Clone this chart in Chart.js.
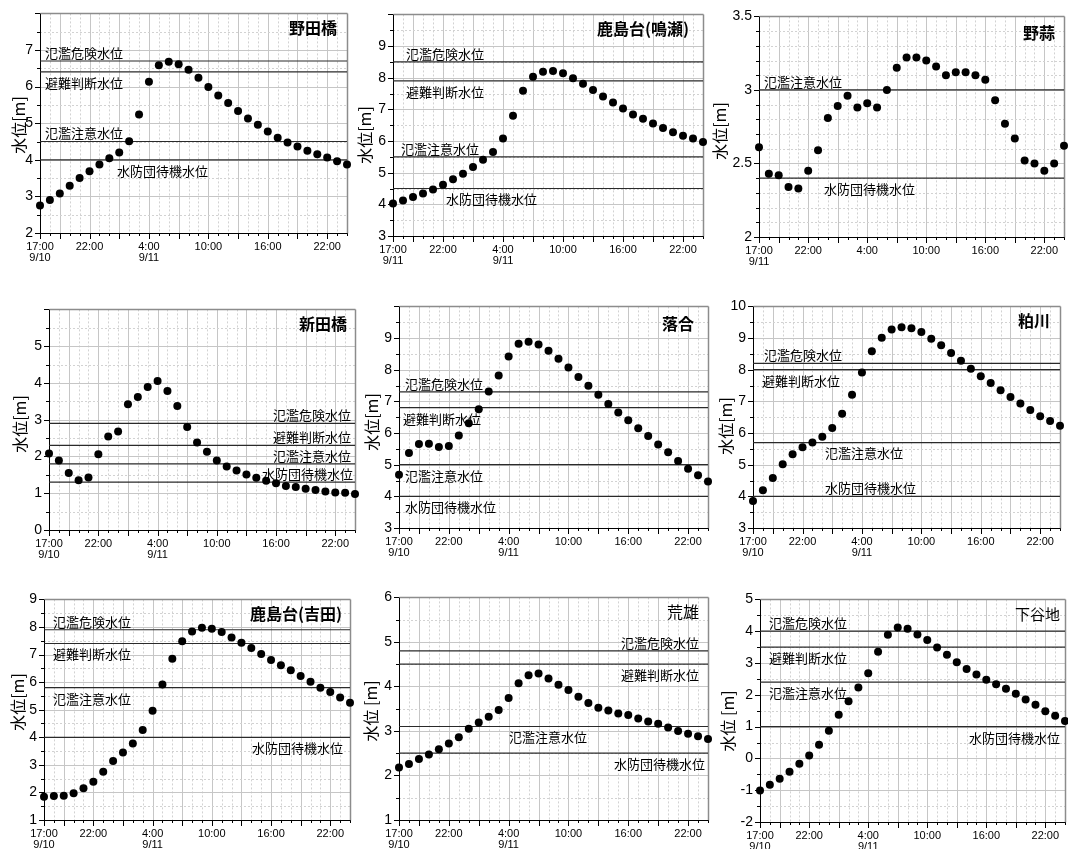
<!DOCTYPE html>
<html lang="ja">
<head>
<meta charset="utf-8">
<title>水位</title>
<script src="https://cdn.jsdelivr.net/npm/chart.js@4.4.1/dist/chart.umd.min.js"></script>
<style>
html,body{margin:0;padding:0;background:#fff;}
#wrap{position:relative;width:1068px;height:849px;overflow:hidden;background:#fff;}
#wrap canvas{position:absolute;}
</style>
</head>
<body>
<div id="wrap"></div>
<script>
// Hourly readings, 17:00 on 9/10 through 0:00 on 9/12
const times = ['17:00','18:00','19:00','20:00','21:00','22:00','23:00','0:00','1:00','2:00','3:00',
  '4:00','5:00','6:00','7:00','8:00','9:00','10:00','11:00','12:00','13:00','14:00','15:00',
  '16:00','17:00','18:00','19:00','20:00','21:00','22:00','23:00','0:00'];
const labelledSlots = [0, 5, 11, 17, 23, 29];

const levelNames = ['氾濫危険水位', '避難判断水位', '氾濫注意水位', '水防団待機水位'];

const nodaLevels = [2.75,2.90,3.08,3.29,3.50,3.69,3.87,4.04,4.20,4.51,5.24,6.13,6.58,6.68,6.61,6.46,
  6.24,5.99,5.76,5.55,5.33,5.13,4.96,4.77,4.60,4.47,4.36,4.25,4.15,4.06,3.96,3.87];
const nodaLimits = [6.7, 6.4, 4.5, 4.0];

const naruseLevels = [4.03,4.12,4.23,4.34,4.47,4.62,4.79,4.97,5.18,5.41,5.65,6.08,6.80,7.59,8.03,8.19,
  8.21,8.14,7.98,7.81,7.61,7.41,7.22,7.03,6.84,6.70,6.55,6.41,6.28,6.17,6.08,5.97];
const naruseLimits = [8.5, 7.9, 5.5, 4.5];

const nobiruLevels = [2.61,2.43,2.42,2.34,2.33,2.45,2.59,2.81,2.89,2.96,2.88,2.91,2.88,3.00,3.15,3.22,
  3.22,3.20,3.16,3.10,3.12,3.12,3.10,3.07,2.93,2.77,2.67,2.52,2.50,2.45,2.50,2.62];
const nobiruLimits = [3.0, 2.4];

const shindenLevels = [2.08,1.89,1.55,1.35,1.43,2.06,2.54,2.68,3.42,3.62,3.89,4.05,3.78,3.37,2.80,2.38,
  2.13,1.89,1.73,1.62,1.51,1.42,1.34,1.27,1.20,1.17,1.12,1.09,1.05,1.02,1.01,0.98];
const shindenLimits = [2.9, 2.3, 1.8, 1.3];

const ochiaiLevels = [4.68,5.37,5.65,5.66,5.56,5.59,5.92,6.31,6.75,7.31,7.82,8.42,8.82,8.88,8.80,8.60,
  8.35,8.07,7.77,7.49,7.21,6.92,6.65,6.40,6.15,5.91,5.64,5.39,5.12,4.87,4.67,4.47];
const ochiaiLimits = [7.3, 6.8, 5.0, 4.0];

const kasukawaLevels = [3.85,4.19,4.58,5.01,5.33,5.55,5.70,5.88,6.16,6.61,7.21,7.91,8.58,9.01,9.27,9.34,
  9.31,9.19,8.98,8.77,8.53,8.28,8.03,7.79,7.58,7.35,7.14,6.93,6.73,6.53,6.38,6.23];
const kasukawaLimits = [8.2, 8.0, 5.7, 4.0];

const yoshidaLevels = [1.84,1.87,1.88,1.97,2.15,2.39,2.75,3.14,3.45,3.77,4.26,4.96,5.91,6.85,7.48,7.84,
  7.97,7.94,7.82,7.62,7.43,7.24,7.02,6.80,6.61,6.43,6.22,6.01,5.80,5.64,5.44,5.25];
const yoshidaLimits = [7.9, 7.4, 5.8, 4.0];

const araoLevels = [2.18,2.26,2.37,2.47,2.59,2.72,2.86,3.05,3.19,3.32,3.47,3.74,4.07,4.25,4.29,4.18,
  4.04,3.92,3.77,3.63,3.52,3.46,3.39,3.36,3.28,3.21,3.16,3.08,3.00,2.94,2.88,2.82];
const araoLimits = [4.8, 4.5, 3.1, 2.5];

const shimoyachiLevels = [-1.01,-0.83,-0.64,-0.42,-0.17,0.09,0.43,0.87,1.37,1.80,2.23,2.68,3.35,3.89,4.12,4.08,
  3.90,3.72,3.49,3.26,3.02,2.81,2.64,2.47,2.33,2.19,2.03,1.85,1.69,1.48,1.34,1.18];
const shimoyachiLimits = [4.0, 3.5, 2.4, 1.0];

// Panel layout: plot box [left, top, right, bottom] on the page, axis ranges and label placement
const stations = [
  { name: '野田橋', levels: nodaLevels, limits: nodaLimits, names: levelNames, dates: ['9/10','9/11'],
    box: [40,12,347,233], min: 2, max: 8, step: 1, minor: 0.5, hideTop: true,
    marks: [['above','left',5],['below','left',5],['above','left',5],['below','left',77]],
    titleRight: 10, titleDy: 15, bold: true, titleSize: 16, yText: '水位[m]', yTitle: [19,125] },
  { name: '鹿島台(鳴瀬)', levels: naruseLevels, limits: naruseLimits, names: levelNames, dates: ['9/11','9/11'],
    box: [393,13,703,236], min: 3, max: 10, step: 1, minor: 0.5, hideTop: true,
    marks: [['above','left',13],['below','left',13],['above','left',8],['below','left',53]],
    titleRight: 14, titleDy: 15, bold: true, titleSize: 16, yText: '水位[m]', yTitle: [365,135] },
  { name: '野蒜', levels: nobiruLevels, limits: nobiruLimits, names: levelNames.slice(2), dates: ['9/11',''],
    box: [759,15,1064,237], min: 2, max: 3.5, step: 0.5, minor: 0.1, hideTop: false,
    marks: [['above','left',5],['below','left',65]],
    titleRight: 9, titleDy: 17, bold: true, titleSize: 16, yText: '水位[m]', yTitle: [720,131] },
  { name: '新田橋', levels: shindenLevels, limits: shindenLimits, names: levelNames, dates: ['9/10','9/11'],
    box: [49,308,355,530], min: 0, max: 6, step: 1, minor: 0.5, hideTop: true,
    marks: [['above','right',4],['above','right',4],['above','right',4],['above','right',2]],
    titleRight: 8, titleDy: 15, bold: true, titleSize: 16, yText: '水位[m]', yTitle: [20,424] },
  { name: '落合', levels: ochiaiLevels, limits: ochiaiLimits, names: levelNames, dates: ['9/10','9/11'],
    box: [399,305,708,528], min: 3, max: 10, step: 1, minor: 0.5, hideTop: true,
    marks: [['above','left',6],['below','left',4],['below','left',6],['below','left',6]],
    titleRight: 14, titleDy: 18, bold: true, titleSize: 16, yText: '水位[m]', yTitle: [372,422] },
  { name: '粕川', levels: kasukawaLevels, limits: kasukawaLimits, names: levelNames, dates: ['9/10','9/11'],
    box: [753,305,1060,528], min: 3, max: 10, step: 1, minor: 0.5, hideTop: false,
    marks: [['above','left',11],['below','left',9],['below','left',72],['above','left',72]],
    titleRight: 10, titleDy: 15, bold: true, titleSize: 16, yText: '水位[m]', yTitle: [726,426] },
  { name: '鹿島台(吉田)', levels: yoshidaLevels, limits: yoshidaLimits, names: levelNames, dates: ['9/10','9/11'],
    box: [44,598,350,820], min: 1, max: 9, step: 1, minor: 0.5, hideTop: false,
    marks: [['above','left',9],['below','left',9],['below','left',9],['below','right',7]],
    titleRight: 8, titleDy: 15, bold: true, titleSize: 16, yText: '水位[m]', yTitle: [18,702] },
  { name: '荒雄', levels: araoLevels, limits: araoLimits, names: levelNames, dates: ['9/10','9/11'],
    box: [399,596,708,820], min: 1, max: 6, step: 1, minor: 0.5, hideTop: false,
    marks: [['above','right',9],['below','right',9],['below','left',110],['below','right',3]],
    titleRight: 9, titleDy: 15, bold: false, titleSize: 16, yText: '水位 [m]', yTitle: [371,711] },
  { name: '下谷地', levels: shimoyachiLevels, limits: shimoyachiLimits, names: levelNames, dates: ['9/10','9/11'],
    box: [760,598,1065,822], min: -2, max: 5, step: 1, minor: 0.5, hideTop: false,
    marks: [['above','left',9],['below','left',9],['below','left',9],['below','right',5]],
    titleRight: 5, titleDy: 15, bold: false, titleSize: 15, yText: '水位 [m]', yTitle: [728,721] }
];

const AW = 50, TP = 14, RP = 8, XH = 36;
const LATIN = "'Liberation Sans', Arial, sans-serif";
const CJK = "'Noto Sans CJK JP', 'Noto Sans', sans-serif";

// Grid, tick marks, frame, level captions and headings for each panel
const panelPlugin = {
  id: 'panel',
  beforeDatasetsDraw(chart) {
    const p = chart.options.plugins.panel;
    const { ctx, chartArea: a } = chart;
    const xs = chart.scales.x, ys = chart.scales.y;
    const seg = (x0, y0, x1, y1) => { ctx.beginPath(); ctx.moveTo(x0, y0); ctx.lineTo(x1, y1); ctx.stroke(); };
    const snap = v => Math.round(v) + 0.5;
    ctx.save();
    ctx.lineWidth = 1;

    // vertical grid: solid every third hour, dotted on the other hours
    for (let i = 1; i < times.length - 1; i++) {
      const px = snap(xs.getPixelForValue(i));
      const major = i % 3 === 2;
      ctx.setLineDash(major ? [] : [2, 2]);
      ctx.strokeStyle = major ? '#c6c6c6' : '#d2d2d2';
      seg(px, a.top, px, a.bottom);
    }
    // horizontal grid
    const n = Math.round((p.max - p.min) / p.minor);
    const isMajor = v => { const r = v / p.step; return Math.abs(r - Math.round(r)) < 1e-6; };
    for (let k = 1; k < n; k++) {
      const v = p.min + k * p.minor;
      const py = snap(ys.getPixelForValue(v));
      const major = isMajor(v);
      ctx.setLineDash(major ? [] : [2, 2]);
      ctx.strokeStyle = major ? '#c6c6c6' : '#d2d2d2';
      seg(a.left, py, a.right, py);
    }
    ctx.setLineDash([]);

    // tick marks
    ctx.strokeStyle = '#000';
    for (let i = 0; i < times.length; i++) {
      const px = snap(xs.getPixelForValue(i));
      const len = (i === 0 || i % 3 === 2) ? 6 : 3;
      seg(px, a.bottom, px, a.bottom + len);
    }
    for (let k = 0; k <= n; k++) {
      const v = p.min + k * p.minor;
      const py = snap(ys.getPixelForValue(v));
      const len = isMajor(v) ? 5 : 3;
      seg(a.left - len, py, a.left, py);
    }

    // frame
    const L = snap(a.left), R = snap(a.right), T = snap(a.top), B = snap(a.bottom);
    ctx.strokeStyle = '#8c8c8c';
    ctx.lineWidth = 1.5;
    seg(L, T, R, T);
    seg(R, T, R, B);
    ctx.strokeStyle = '#000';
    ctx.lineWidth = 1;
    seg(L, T, L, B);
    seg(L, B, R, B);

    // captions for the warning levels
    ctx.font = `13px ${CJK}`;
    ctx.fillStyle = '#000';
    ctx.textBaseline = 'middle';
    p.marks.forEach((m, j) => {
      const [side, align, dx] = m;
      const py = ys.getPixelForValue(p.limits[j]) + (side === 'above' ? -8 : 11);
      ctx.textAlign = align;
      ctx.fillText(p.names[j], align === 'left' ? a.left + dx : a.right - dx, py);
    });

    // station heading
    ctx.font = `${p.bold ? 'bold ' : ''}${p.titleSize}px ${CJK}`;
    ctx.fillStyle = '#000';
    ctx.textAlign = 'right';
    ctx.fillText(p.name, a.right - p.titleRight, a.top + p.titleDy);

    // vertical axis title
    ctx.translate(p.yTitleX, p.yTitleY);
    ctx.rotate(-Math.PI / 2);
    ctx.font = `16px ${CJK}`;
    ctx.textAlign = 'center';
    ctx.fillText(p.yText, 0, 0);
    ctx.restore();
  }
};

const wrap = document.getElementById('wrap');

stations.forEach(s => {
  const [L, T, R, B] = s.box;
  const w = AW + (R - L) + RP, h = TP + (B - T) + XH;
  const left = L - AW, top = T - TP;
  const canvas = document.createElement('canvas');
  canvas.width = w; canvas.height = h;
  canvas.style.left = left + 'px'; canvas.style.top = top + 'px';
  canvas.style.width = w + 'px'; canvas.style.height = h + 'px';
  wrap.appendChild(canvas);

  const datasets = [{
    data: s.levels, showLine: false, pointRadius: 4, pointHoverRadius: 4,
    pointBackgroundColor: '#000', pointBorderWidth: 0, clip: false
  }];
  s.limits.forEach(v => datasets.push({
    data: times.map(() => v), borderColor: '#2a2a2a', borderWidth: 1.2,
    pointRadius: 0, pointHoverRadius: 0, fill: false
  }));

  new Chart(canvas, {
    type: 'line',
    data: { labels: times, datasets },
    options: {
      responsive: false, animation: false, devicePixelRatio: 1, events: [],
      layout: { padding: { top: TP, right: RP, left: 0, bottom: 0 } },
      plugins: {
        legend: { display: false }, tooltip: { enabled: false },
        panel: {
          min: s.min, max: s.max, step: s.step, minor: s.minor,
          limits: s.limits, names: s.names, marks: s.marks,
          name: s.name, bold: s.bold, titleSize: s.titleSize,
          titleRight: s.titleRight, titleDy: s.titleDy,
          yText: s.yText, yTitleX: s.yTitle[0] - left, yTitleY: s.yTitle[1] - top
        }
      },
      scales: {
        x: {
          type: 'category', offset: false,
          grid: { display: false, drawTicks: false }, border: { display: false },
          ticks: {
            autoSkip: false, maxRotation: 0, minRotation: 0, padding: 8, color: '#000',
            font: { family: LATIN, size: 11, lineHeight: 1.0 },
            callback: (value, index) => {
              if (!labelledSlots.includes(index)) return '';
              const d = index === 0 ? s.dates[0] : (index === 11 ? s.dates[1] : '');
              return d ? [times[index], d] : times[index];
            }
          },
          afterFit: sc => { sc.height = XH; }
        },
        y: {
          type: 'linear', min: s.min, max: s.max,
          grid: { display: false, drawTicks: false }, border: { display: false },
          ticks: {
            stepSize: s.step, padding: 7, color: '#000',
            font: { family: LATIN, size: 14 },
            callback: v => (s.hideTop && v === s.max) ? '' : v
          },
          afterFit: sc => { sc.width = AW; }
        }
      }
    },
    plugins: [panelPlugin]
  });
});
</script>
</body>
</html>
